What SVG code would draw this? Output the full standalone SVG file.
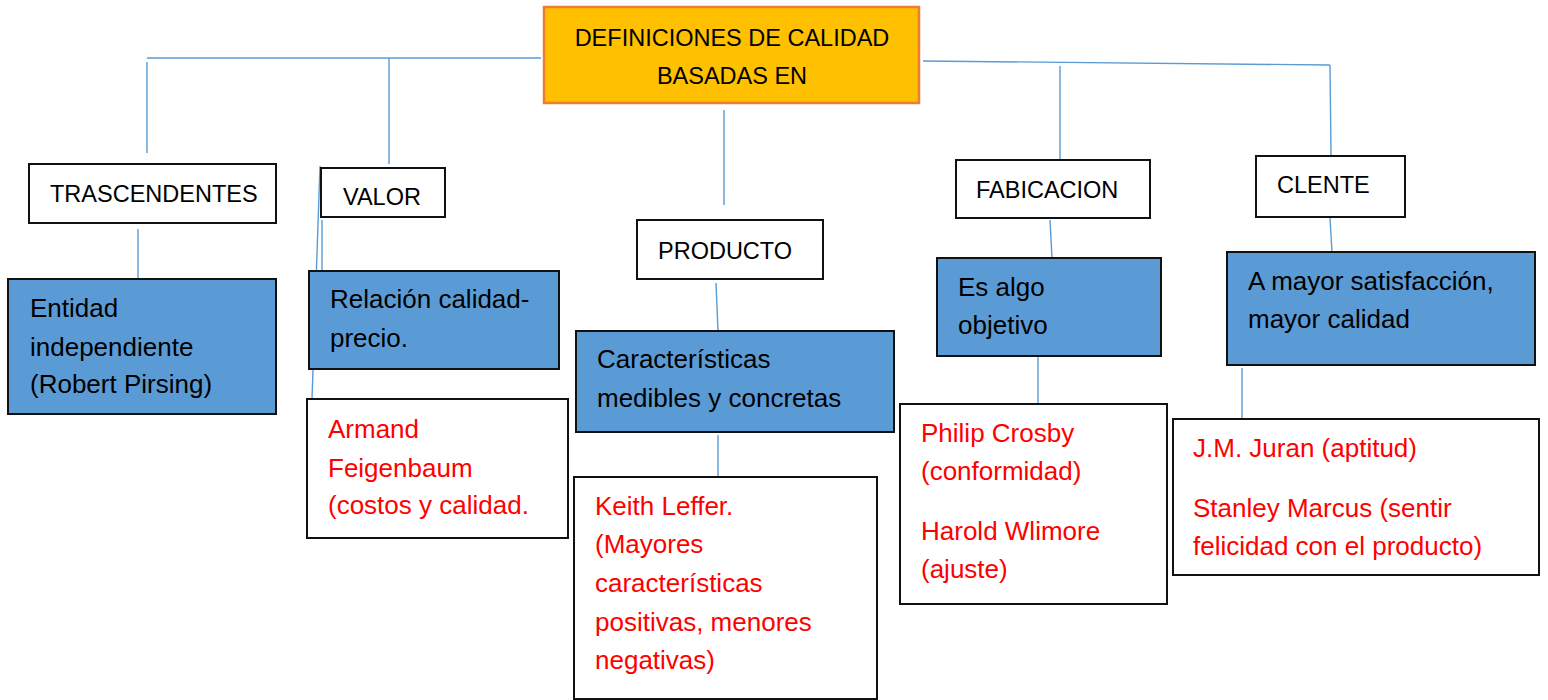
<svg xmlns="http://www.w3.org/2000/svg" width="1548" height="700" viewBox="0 0 1548 700">
<style>
.bg{fill:#ffffff}
.conn line{stroke:#5B9BD5;stroke-width:1.4;fill:none}
.main{fill:#FFC000;stroke:#ED7D31;stroke-width:2.5}
.cat{fill:#ffffff;stroke:#111111;stroke-width:2}
.desc{fill:#5B9BD5;stroke:#111111;stroke-width:2}
.auth{fill:#ffffff;stroke:#111111;stroke-width:2}
text{font-family:"Liberation Sans",Arial,sans-serif;fill:#000000}
.up{font-size:23.5px}
.lc{font-size:26px}
.red{fill:#FF0000}
</style>
<rect class="bg" x="0" y="0" width="1548" height="700"/>
<g id="connectors" class="conn">
<line x1="541" y1="58" x2="147" y2="58"/>
<line x1="147" y1="62" x2="147" y2="153"/>
<line x1="389" y1="58" x2="389" y2="164"/>
<line x1="923" y1="61" x2="1330" y2="65"/>
<line x1="1330" y1="65" x2="1331" y2="155"/>
<line x1="1060" y1="66" x2="1060" y2="159"/>
<line x1="724" y1="110" x2="724" y2="205"/>
<line x1="138" y1="229" x2="138" y2="279"/>
<line x1="322" y1="220" x2="322" y2="270"/>
<line x1="320" y1="166" x2="312" y2="399"/>
<line x1="716" y1="283" x2="718" y2="331"/>
<line x1="718" y1="435" x2="718" y2="477"/>
<line x1="1050" y1="220" x2="1052" y2="258"/>
<line x1="1038" y1="357" x2="1038" y2="404"/>
<line x1="1330" y1="218" x2="1332" y2="252"/>
<line x1="1242" y1="368" x2="1242" y2="419"/>
</g>
<g id="main">
<rect class="main" x="544" y="7" width="375" height="96"/>
<text class="up" x="732" y="46" text-anchor="middle">DEFINICIONES DE CALIDAD</text>
<text class="up" x="732" y="84" text-anchor="middle">BASADAS EN</text>
</g>
<g id="trascendentes">
<rect class="cat" x="29" y="164" width="247" height="59"/>
<text class="up" x="50" y="202">TRASCENDENTES</text>
</g>
<g id="valor">
<rect class="cat" x="321" y="168" width="124" height="49"/>
<text class="up" x="343" y="205">VALOR</text>
</g>
<g id="producto">
<rect class="cat" x="637" y="220" width="186" height="59"/>
<text class="up" x="658" y="259">PRODUCTO</text>
</g>
<g id="fabicacion">
<rect class="cat" x="956" y="160" width="194" height="58"/>
<text class="up" x="976" y="198">FABICACION</text>
</g>
<g id="clente">
<rect class="cat" x="1256" y="156" width="149" height="61"/>
<text class="up" x="1277" y="193">CLENTE</text>
</g>
<g id="desc-trascendentes">
<rect class="desc" x="8" y="279" width="268" height="135"/>
<text class="lc" x="30" y="317">Entidad</text>
<text class="lc" x="30" y="356">independiente</text>
<text class="lc" x="30" y="393">(Robert Pirsing)</text>
</g>
<g id="desc-valor">
<rect class="desc" x="309" y="271" width="250" height="98"/>
<text class="lc" x="330" y="308">Relación calidad-</text>
<text class="lc" x="330" y="347">precio.</text>
</g>
<g id="desc-producto">
<rect class="desc" x="576" y="331" width="318" height="101"/>
<text class="lc" x="597" y="368">Características</text>
<text class="lc" x="597" y="407">medibles y concretas</text>
</g>
<g id="desc-fabicacion">
<rect class="desc" x="937" y="258" width="224" height="98"/>
<text class="lc" x="958" y="296">Es algo</text>
<text class="lc" x="958" y="334">objetivo</text>
</g>
<g id="desc-clente">
<rect class="desc" x="1227" y="252" width="308" height="113"/>
<text class="lc" x="1248" y="290">A mayor satisfacción,</text>
<text class="lc" x="1248" y="328">mayor calidad</text>
</g>
<g id="autor-valor">
<rect class="auth" x="307" y="399" width="261" height="139"/>
<text class="lc red" x="328" y="438">Armand</text>
<text class="lc red" x="328" y="477">Feigenbaum</text>
<text class="lc red" x="328" y="514">(costos y calidad.</text>
</g>
<g id="autor-producto">
<rect class="auth" x="574" y="477" width="303" height="222"/>
<text class="lc red" x="595" y="515">Keith Leffer.</text>
<text class="lc red" x="595" y="553">(Mayores</text>
<text class="lc red" x="595" y="592">características</text>
<text class="lc red" x="595" y="631">positivas, menores</text>
<text class="lc red" x="595" y="669">negativas)</text>
</g>
<g id="autor-fabicacion">
<rect class="auth" x="900" y="404" width="267" height="200"/>
<text class="lc red" x="921" y="442">Philip Crosby</text>
<text class="lc red" x="921" y="480">(conformidad)</text>
<text class="lc red" x="921" y="540">Harold Wlimore</text>
<text class="lc red" x="921" y="578">(ajuste)</text>
</g>
<g id="autor-clente">
<rect class="auth" x="1173" y="419" width="366" height="156"/>
<text class="lc red" x="1193" y="457">J.M. Juran (aptitud)</text>
<text class="lc red" x="1193" y="517">Stanley Marcus (sentir</text>
<text class="lc red" x="1193" y="555">felicidad con el producto)</text>
</g>
</svg>
